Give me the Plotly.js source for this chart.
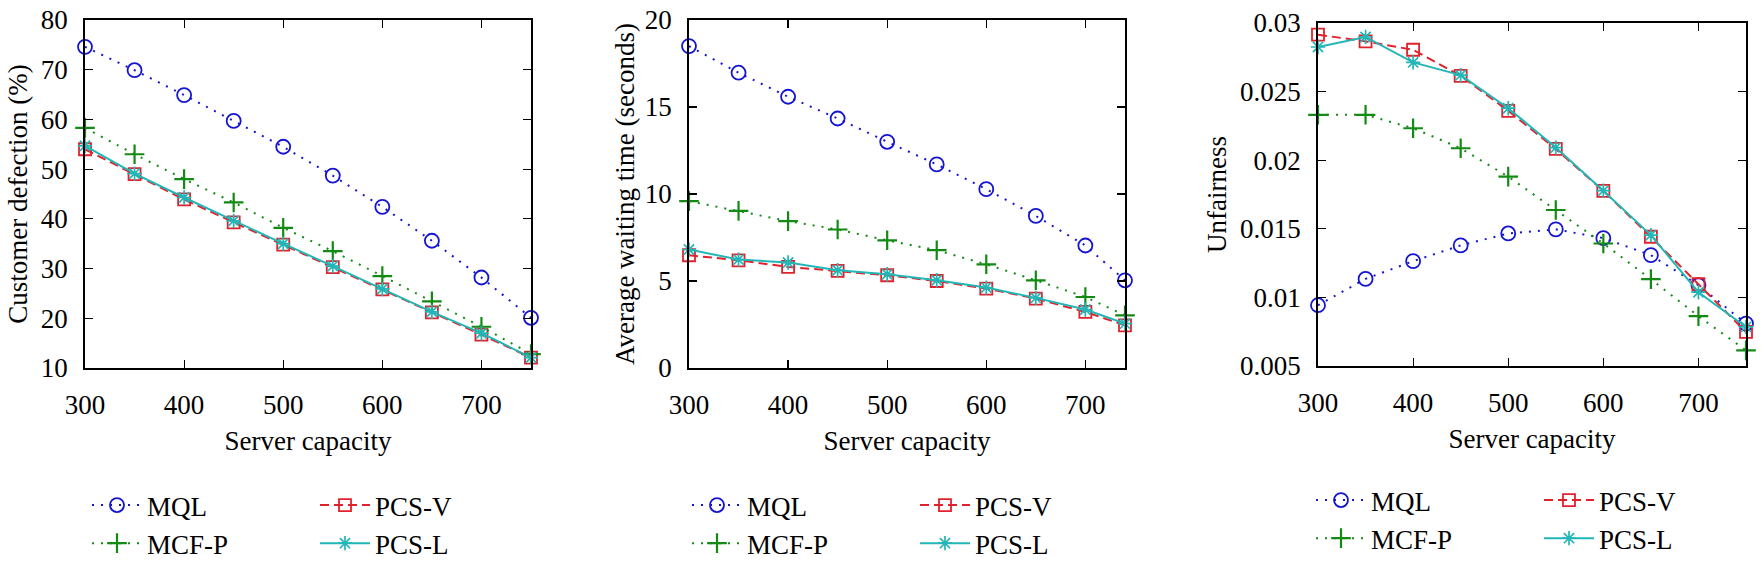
<!DOCTYPE html>
<html>
<head>
<meta charset="utf-8">
<script src="https://cdn.plot.ly/plotly-3.0.1.min.js"></script>
<style>html,body{margin:0;padding:0;background:#fff}#chart{width:1764px;height:564px}</style>
</head>
<body>
<div id="chart"></div>
<script>
// ---- data ----
const capacity = [300, 350, 400, 450, 500, 550, 600, 650, 700, 750];
const capacityWait = [300, 350, 400, 450, 500, 550, 600, 650, 700, 740];

const defectionMQL  = [74.6, 69.9, 64.9, 59.7, 54.5, 48.7, 42.4, 35.6, 28.2, 20.1];
const defectionMCFP = [58.3, 53.0, 48.0, 43.3, 38.2, 33.5, 28.5, 23.4, 18.3, 12.8];
const defectionPCSV = [54.0, 49.0, 43.9, 39.3, 34.8, 30.3, 25.8, 21.2, 16.7, 12.1];
const defectionPCSL = [54.7, 49.1, 44.3, 39.6, 35.0, 30.5, 25.9, 21.3, 17.0, 12.1];

const waitMQL  = [18.5, 16.97, 15.59, 14.34, 13.0, 11.7, 10.28, 8.74, 7.04, 5.04];
const waitMCFP = [9.59, 9.03, 8.44, 7.96, 7.34, 6.77, 5.96, 5.04, 4.08, 3.03];
const waitPCSV = [6.48, 6.19, 5.81, 5.58, 5.33, 5.0, 4.56, 3.99, 3.22, 2.45];
const waitPCSL = [6.81, 6.23, 6.06, 5.62, 5.39, 5.04, 4.62, 4.03, 3.36, 2.55];

const unfairMQL  = [0.00943, 0.01135, 0.01264, 0.01379, 0.01466, 0.01496, 0.01432, 0.01308, 0.01089, 0.00809];
const unfairMCFP = [0.02331, 0.02331, 0.02233, 0.02087, 0.0188, 0.01637, 0.01393, 0.01133, 0.00863, 0.00614];
const unfairPCSV = [0.02915, 0.02866, 0.02805, 0.02615, 0.0236, 0.02082, 0.01776, 0.01442, 0.01096, 0.00748];
const unfairPCSL = [0.02825, 0.02898, 0.02713, 0.0262, 0.02379, 0.02092, 0.01778, 0.01454, 0.01038, 0.00785];

const seriesNames = ['MQL', 'PCS-V', 'MCF-P', 'PCS-L'];
const xTickVals = [300, 400, 500, 600, 700];
const yTicks1 = [10, 20, 30, 40, 50, 60, 70, 80];
const yTicks2 = [0, 5, 10, 15, 20];
const yTicks3 = [0.005, 0.01, 0.015, 0.02, 0.025, 0.03];
const yTickText3 = ['0.005', '0.01', '0.015', '0.02', '0.025', '0.03'];

// ---- styles ----
const FONT = 'Liberation Serif';
const FS = 27;
const styles = {
  'MQL':   {color: '#1414d2', dash: '2px,7px', width: 2, symbol: 'circle-open', size: 14, mlw: 1.8, grp: 'a'},
  'PCS-V': {color: '#e0222c', dash: '9px,5px', width: 2, symbol: 'square-open', size: 12, mlw: 1.8, grp: 'b'},
  'MCF-P': {color: '#138a13', dash: '2px,7px', width: 2, symbol: 'cross-thin-open', size: 14, mlw: 2.2, grp: 'a'},
  'PCS-L': {color: '#22b6b6', dash: 'solid', width: 2, symbol: 'asterisk-open', size: 12, mlw: 1.7, grp: 'b'}
};

function mk(name, x, y, xa, ya, leg) {
  const s = styles[name];
  return {
    type: 'scatter', mode: 'lines+markers', name: name, x: x, y: y,
    xaxis: xa, yaxis: ya, legend: leg, legendgroup: leg + s.grp, cliponaxis: false,
    line: {color: s.color, dash: s.dash, width: s.width},
    marker: {symbol: s.symbol, size: s.size, color: s.color, line: {color: s.color, width: s.mlw}}
  };
}

const panels = [
  {xa: 'x', ya: 'y', leg: 'legend', x: capacity, ys: {'MQL': defectionMQL, 'PCS-V': defectionPCSV, 'MCF-P': defectionMCFP, 'PCS-L': defectionPCSL}},
  {xa: 'x2', ya: 'y2', leg: 'legend2', x: capacityWait, ys: {'MQL': waitMQL, 'PCS-V': waitPCSV, 'MCF-P': waitMCFP, 'PCS-L': waitPCSL}},
  {xa: 'x3', ya: 'y3', leg: 'legend3', x: capacity, ys: {'MQL': unfairMQL, 'PCS-V': unfairPCSV, 'MCF-P': unfairMCFP, 'PCS-L': unfairPCSL}}
];

const data = [];
panels.forEach(p => seriesNames.forEach(n => data.push(mk(n, p.x, p.ys[n], p.xa, p.ya, p.leg))));

const W = 1764, H = 564;
function dx(a, b) { return [a / W, b / W]; }
function dy(top, bottom) { return [(H - bottom) / H, (H - top) / H]; }

const tickFont = {family: FONT, size: FS, color: '#000'};
function xaxis(dom, range, anchor) {
  return {
    domain: dom, range: range, anchor: anchor, tickvals: xTickVals,
    ticks: 'inside', ticklen: 8, tickwidth: 1.2, tickcolor: '#000',
    showline: true, linecolor: '#000', linewidth: 1.8, mirror: 'ticks',
    showgrid: false, zeroline: false, tickfont: tickFont, ticklabelstandoff: 12,
    title: {text: 'Server capacity', font: {family: FONT, size: FS, color: '#000'}, standoff: 12}
  };
}
function yaxis(dom, range, anchor, tickvals, ticktext, title, standoff) {
  const o = {
    domain: dom, range: range, anchor: anchor, tickvals: tickvals,
    ticks: 'inside', ticklen: 8, tickwidth: 1.2, tickcolor: '#000',
    showline: true, linecolor: '#000', linewidth: 1.8, mirror: 'ticks',
    showgrid: false, zeroline: false, tickfont: tickFont, ticklabelstandoff: 10,
    title: {text: title, font: {family: FONT, size: FS, color: '#000'}, standoff: standoff}
  };
  if (ticktext) o.ticktext = ticktext;
  return o;
}

function legend(x, ytop) {
  return {
    x: x / W, y: (H - ytop) / H, xanchor: 'left', yanchor: 'top', orientation: 'h',
    traceorder: 'grouped', entrywidth: 163, entrywidthmode: 'pixels', itemwidth: 50,
    font: {family: FONT, size: FS, color: '#000'}, bgcolor: 'rgba(0,0,0,0)', borderwidth: 0
  };
}

const layout = {
  width: W, height: H, margin: {l: 0, r: 0, t: 0, b: 0, autoexpand: false},
  paper_bgcolor: '#fff', plot_bgcolor: '#fff', showlegend: true,
  xaxis: xaxis(dx(85, 531), [300, 750], 'y'),
  yaxis: yaxis(dy(20, 368), [10, 80], 'x', yTicks1, null, 'Customer defection (%)', 5),
  xaxis2: xaxis(dx(689, 1125), [300, 740], 'y2'),
  yaxis2: yaxis(dy(20, 368), [0, 20], 'x2', yTicks2, null, 'Average waiting time (seconds)', 2),
  xaxis3: xaxis(dx(1318, 1746), [300, 750], 'y3'),
  yaxis3: yaxis(dy(23, 366), [0.005, 0.03], 'x3', yTicks3, yTickText3, 'Unfairness', 5),
  legend: legend(87, 481),
  legend2: legend(687, 481),
  legend3: legend(1311, 476)
};

Plotly.newPlot('chart', data, layout, {staticPlot: true, displayModeBar: false});
</script>
</body>
</html>
